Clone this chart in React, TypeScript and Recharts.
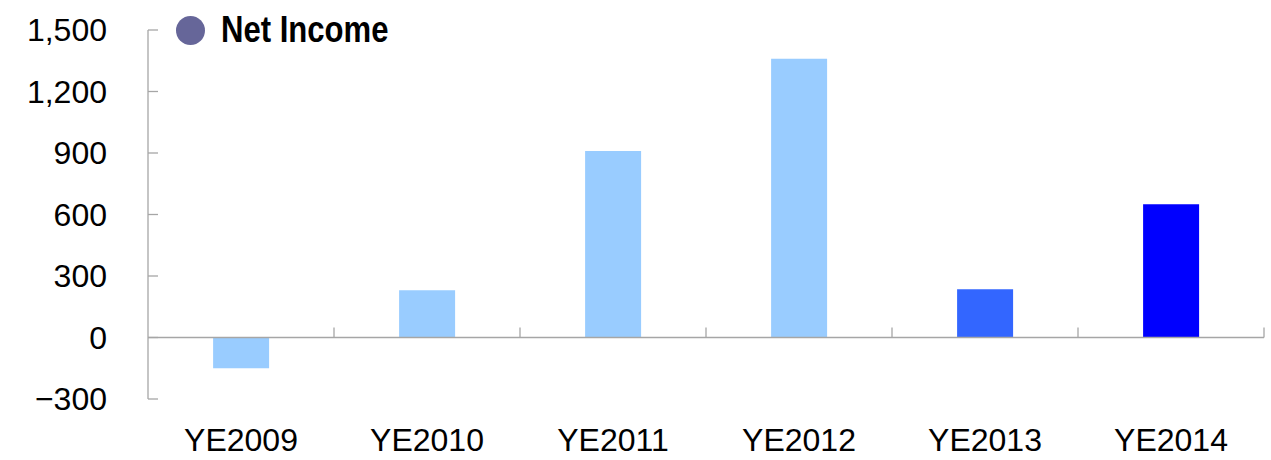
import { BarChart, Bar, XAxis, YAxis, Cell, Legend, ReferenceLine } from "recharts";

const years = ["YE2009", "YE2010", "YE2011", "YE2012", "YE2013", "YE2014"];
const netIncome = [-150, 230, 910, 1360, 235, 650];
const yTicks = [-300, 0, 300, 600, 900, 1200, 1500];

const barColors = ["#99CCFF", "#99CCFF", "#99CCFF", "#99CCFF", "#3366FF", "#0000FF"];
const axisGray = "#A6A6A6";

const datos = years.map((y, i) => ({ year: y, value: netIncome[i] }));

function ZeroLine(props: any) {
  const { x1, y1, x2 } = props;
  const n = years.length;
  const step = (x2 - x1) / n;
  return (
    <g>
      <line x1={x1} y1={y1} x2={x2} y2={y1} stroke={axisGray} strokeWidth={1.3} />
      {years.map((_, i) => (
        <line
          key={i}
          x1={x1 + (i + 1) * step}
          x2={x1 + (i + 1) * step}
          y1={y1}
          y2={y1 - 10}
          stroke={axisGray}
          strokeWidth={1.3}
        />
      ))}
    </g>
  );
}

function LeyendaNetIncome() {
  return (
    <div style={{ display: "flex", alignItems: "center", fontFamily: "'Liberation Sans', Arial, sans-serif", whiteSpace: "nowrap" }}>
      <span
        style={{ width: 29, height: 29, borderRadius: "50%", background: "#666699", display: "inline-block", marginRight: 16 }}
      />
      <span
        style={{
          fontSize: 37,
          fontWeight: "bold",
          color: "#000",
          lineHeight: "38px",
          display: "inline-block",
          transform: "scaleX(0.84)",
          transformOrigin: "left center",
        }}
      >
        Net Income
      </span>
    </div>
  );
}

export default function App() {
  return (
    <div style={{ position: "absolute", left: 0, top: 0, background: "#fff" }}>
      <BarChart
        width={1271}
        height={460}
        data={datos}
        margin={{ top: 30, right: 7, left: 0, bottom: 0 }}
        barCategoryGap="35%"
        style={{ fontFamily: "'Liberation Sans', Arial, sans-serif" }}
      >
        <XAxis
          dataKey="year"
          axisLine={false}
          tickLine={false}
          tickSize={0}
          tickMargin={29}
          height={61}
          tick={{ fontSize: 32, fill: "#000" }}
          interval={0}
        />
        <YAxis
          domain={[-300, 1500]}
          ticks={yTicks}
          width={148}
          tickSize={-10}
          tickMargin={51}
          axisLine={{ stroke: axisGray, strokeWidth: 1.3 }}
          tickLine={{ stroke: axisGray, strokeWidth: 1.3 }}
          tick={{ fontSize: 32, fill: "#000" }}
          tickFormatter={(v: number) => (v < 0 ? `\u2212${Math.abs(v)}` : v.toLocaleString("en-US"))}
        />
        <Legend
          layout="horizontal"
          verticalAlign="middle"
          wrapperStyle={{ top: 11, left: 176, width: "auto", height: "auto" }}
          content={() => <LeyendaNetIncome />}
        />
        <Bar dataKey="value" name="Net Income" isAnimationActive={false}>
          {datos.map((_, i) => (
            <Cell key={i} fill={barColors[i]} />
          ))}
        </Bar>
        <ReferenceLine y={0} shape={ZeroLine} />
      </BarChart>
    </div>
  );
}
